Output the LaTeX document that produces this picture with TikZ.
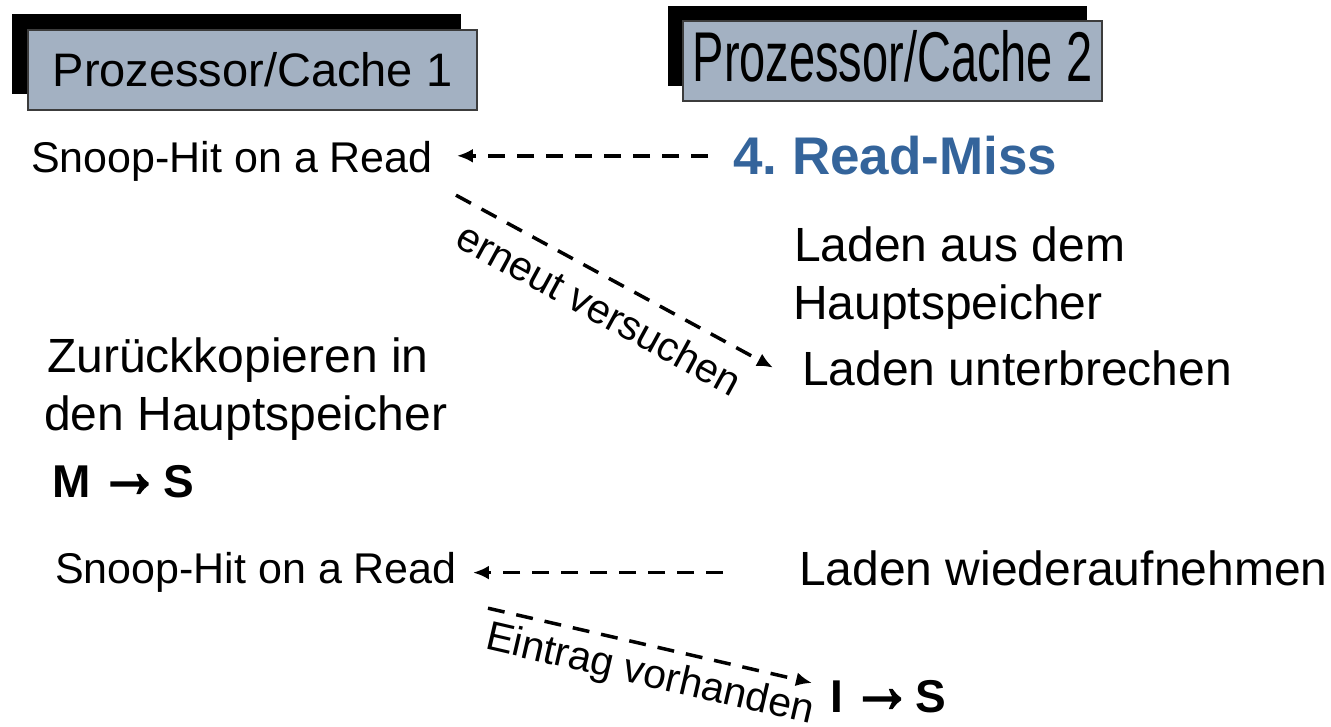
\documentclass[tikz,border=0pt]{standalone}
\usepackage{fontspec}
\usepackage{graphicx}
\setmainfont{Liberation Sans}
\newfontface\arrowface{Liberation Sans Bold}[FakeBold=2.5]
\usetikzlibrary{arrows.meta,shadows}
\definecolor{boxgray}{RGB}{163,177,194}
\definecolor{boxline}{RGB}{60,60,60}
\definecolor{missblue}{RGB}{52,100,155}
\newcommand{\stateto}{\kern8pt\scalebox{1.35}[1.7]{\arrowface →}\kern2.5pt}
\frenchspacing

\begin{document}
\begin{tikzpicture}[x=1pt,y=-1pt,
	cachebox/.style={draw=boxline,line width=1.5pt,fill=boxgray,minimum height=80pt,inner sep=0pt,text depth=0pt,
		font=\fontsize{47}{56}\selectfont,drop shadow={shadow xshift=-#1,shadow yshift=#1,fill=black,opacity=1}},
	txt/.style={anchor=base west,inner sep=0pt,text depth=0pt,font=\fontsize{48}{56}\selectfont},
	small/.style={txt,font=\fontsize{43}{50}\selectfont},
	state/.style={txt,font=\fontsize{46}{55}\selectfont\bfseries},
	lbl/.style={sloped,inner sep=0pt,font=\fontsize{41}{48}\selectfont},
	dasharrow/.style={line width=3.5pt,dash pattern=on 17pt off 12pt,-{Latex[length=16pt,width=14pt]}}]
	\useasboundingbox (0,0) rectangle (1331,727);
	\node[cachebox=16pt,minimum width=449pt,text height=34pt] (cacheA) at (252.5,70) {Prozessor/Cache 1};
	\node[cachebox=15pt,minimum width=419pt,text height=42pt] (cacheB) at (892.5,61) {\scalebox{1}[1.5]{Prozessor/Cache 2}};
	\node[small] (snoopA) at (31,173) {Snoop-Hit on a Read};
	\node[txt,font=\fontsize{53}{62}\selectfont\bfseries,text=missblue] (miss) at (733,175) {4. Read-Miss};
	\node[txt] (ladenA) at (794,262) {Laden aus dem};
	\node[txt] (haupt) at (793,320) {Hauptspeicher};
	\node[txt] (unterbr) at (802,385) {Laden unterbrechen};
	\node[txt] (zurueck) at (47,373) {Zurückkopieren in};
	\node[txt] (denHaupt) at (44,430) {den Hauptspeicher};
	\node[state] (MS) at (52,497) {M\stateto S};
	\node[small] (snoopB) at (55,583) {Snoop-Hit on a Read};
	\node[txt] (wieder) at (799,585) {Laden wiederaufnehmen};
	\node[state] (IS) at (830,712) {I\stateto S};
	\draw[dasharrow,shorten <=25pt,shorten >=24pt] (miss.west) -- (miss.west -| snoopA.east);
	\draw[dasharrow] ([xshift=23pt,yshift=-22pt]snoopA.south east) -- ([xshift=-29pt]unterbr.west)
		node[lbl,midway,below=14pt] {erneut versuchen};
	\draw[dasharrow,shorten <=76pt,shorten >=16pt] ([yshift=-5pt]wieder.west) -- ([yshift=-5pt]wieder.west -| snoopB.east);
	\draw[dasharrow] ([xshift=31pt,yshift=-25pt]snoopB.south east) -- ([xshift=-18pt,yshift=13pt]IS.west)
		node[lbl,pos=0.52,below=9pt] {Eintrag vorhanden};
\end{tikzpicture}
\end{document}
